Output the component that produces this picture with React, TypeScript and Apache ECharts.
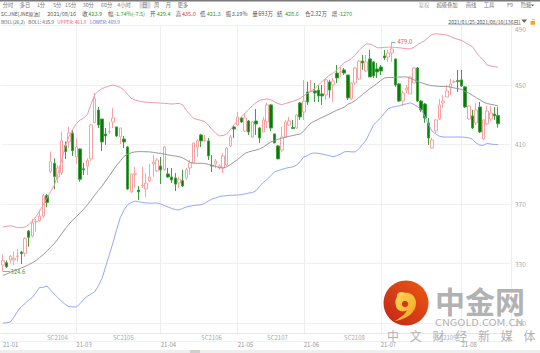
import React, { useEffect, useRef } from "react";
import * as echarts from "echarts";

const opens = [329,330.5,332.4,332.4,334.7,337.7,336.9,351.8,348.5,358,
358.8,361.9,375.6,391.7,397.4,388.2,391,409.2,411.7,417.5,
401.6,407,393.7,395.5,400.3,424.7,433.2,427.1,417.1,418.4,
425.1,421.8,415,413.7,408.3,378.1,390,379.4,382,380.1,
385.5,396.9,392.2,395.5,392.9,390.2,388.2,387.5,384.1,385.7,
387.5,394.2,397.6,408.3,416.4,412.6,412.4,396,396.9,394.2,
394.2,396.2,409,421.8,423.1,427.8,419,425.8,415,425.8,
421.1,418.4,425.1,436.6,417.1,409,406.3,415,423.1,421.4,
421.1,437.9,431.8,445.3,445.7,446,446.6,444,443.3,452,
450,458,458.5,460.1,456.7,440.6,451.3,454,466.1,459.4,
467.5,465.5,460.8,462.1,469.5,468.8,471.5,467.5,450.7,439.2,
446.6,444,451.3,461.4,439.2,437.2,424.5,407.6,419,427.1,
437.9,441.9,448,452,452.9,453.4,448.7,427.1,429.2,424.5,
435.2,413.7,423.8,427.1,430.5,429.4];
const closes = [331.9,327.8,335,333.5,335.1,336.7,346.9,347.6,357.4,358.4,
361.9,375.6,371.1,398.4,388.4,394.2,412.6,405.2,417.7,405.8,
408.3,386.6,392.9,399.1,423.1,441,423.1,411.7,415.7,418.9,
427.8,415.7,421.1,411.7,380.1,390.2,390.5,378.1,382.5,384.1,
388.2,398.2,399.6,392.9,408.3,388.2,386.1,383.4,386.8,382.1,
392.9,397.6,411,412.4,412.4,413,402.3,395.5,398.9,395.5,
402.3,407.6,415,420.4,428.5,425.1,427.8,418.4,425.1,423.8,
414.4,426.5,436.6,421.1,411,400.3,415,425.1,425.8,420.8,
429.8,428.5,439.2,438.6,446,444.6,442.6,442.6,453.4,446.6,
452.7,454.7,458.9,458,441.3,451.3,461.4,466.1,464.8,465.5,
455.4,456.1,458.7,459.4,468.2,471.5,474.2,450,439.2,444.6,
448,455.4,461.4,439.2,433.2,427.8,414.4,413,426.5,436.6,
439.2,446,450.7,452.2,452.4,449.3,435.2,435.9,421.1,433.2,
418.4,426.5,432.5,431.2,429.2,423.9];
const lows = [324.6,327,330.2,329,331.2,329.7,334.6,341.3,347.6,351.4,
358.1,360.4,367.8,390.6,380,384.1,389.5,400.3,407.6,402.3,
396.9,385,389.5,389.5,398.9,424.5,421.1,405.6,409.7,417.1,
421.1,415,410.3,407.6,379.4,377.4,380.8,372.7,380.8,374.7,
384.8,388.2,391.5,383.4,392.2,387.5,384.1,378.7,380.8,381.4,
386.1,389.5,397.6,401.6,408.3,411.7,399.6,391.5,394.2,392.9,
390.8,395.5,408.3,414.4,422.4,424.5,418.4,416.4,414.4,416.4,
411,418.4,421.1,419,411,400.3,405,414.4,422.4,420.8,
420.4,426.5,426.5,436.6,445.3,438.6,438.6,436.6,439.9,441.3,
438.6,451.3,455.4,456.7,439.9,439.9,450,453.4,460.1,458.7,
455.4,454.7,454.7,456.7,466.8,465.5,465.5,448.7,438.6,435.9,
444.6,444,451.3,438.6,431.8,424.5,409.7,407.6,417.7,426.5,
434.5,441.9,443.3,451.3,445.3,448.7,434.5,426.5,420.4,423.1,
417.7,413,423.1,425.8,426.5,421.3];
const highs = [336.2,332,335.7,338,339.6,338.5,347.6,352.5,359.9,359.9,
366,376.7,376.7,405.2,400.7,396.2,418.6,411.9,422,419.7,
414.4,407.4,397.6,400.7,423.8,444.6,435.2,427.1,421.1,425.1,
434.5,421.8,421.1,415.7,409,390.2,394.9,382.1,394.9,390.8,
396.9,402.9,400.9,401.6,409,394.2,394.2,390.8,388.2,392.9,
394.2,399.6,411,413.7,417.1,416.4,414.4,402.9,400.3,396.9,
404.3,408.3,416.4,423.1,431.8,428.5,431.2,426.5,425.8,433.9,
421.8,428.5,437.9,437.2,417.1,409.7,421.8,426.5,428.5,426.5,
430.5,438.6,453.4,452,453.4,451.3,450,450,454.7,453.4,
454.7,463.4,462.1,461.4,456.7,452,462.1,466.8,470.2,470.2,
473.5,466.1,464.8,463.4,473.5,473.5,479,467.5,451.3,446,
450,456.1,462.1,462.1,439.9,437.9,427.8,414.4,427.1,440.6,
443.3,450,454,453.4,460.1,460.1,449.3,436.6,433.2,437.9,
438.6,427.1,435.9,435.9,435.2,435];

const upper = [354.5,355,355.4,354.8,354.1,354.2,354.5,356,358.5,361.5,
365.2,369.5,374,378.5,382.5,390.5,400,409,415.5,420,
424,426.4,427.8,430,437,443.5,445.8,447.6,448.5,449.4,
450,449.3,448.3,446.5,443.5,441,439.8,439.2,438.7,438.4,
438.3,438.1,438,437.8,437.7,437.4,437.2,437.4,437.7,436.5,
433,430,427.4,426.8,426.2,425.3,423,420,417.5,415.8,
416,417,420,423.2,426,428.5,431,433.5,436,438.2,
439.7,440.2,440.6,440,438.8,437.4,436.8,437.5,438.3,439,
439.8,441,442.8,444.3,445.7,447.5,450,452.3,454.5,456.5,
458,460,462.5,465,466,467.8,470,473,475.5,477.5,
477.5,476.5,475,475,475.2,475.4,475.5,475.2,475,474.7,
474.4,474.2,475.2,477,478.5,479.8,482,484,484.4,484.2,
483.9,483.6,482.5,481.5,480.6,480,478.5,477,475.7,472,
469,466.8,463.4,462.8,462.3,461.9];
const middle = [322,323,324,325,326,327,328,329.2,330.5,332,
334,336,338.5,341,343.5,346.5,350,353.5,356.5,359.2,
361.5,364,366.5,369.5,372.5,376,379,382,385.5,389,
392.5,396,399,402,403.5,404.5,405,405.2,405.2,405.1,
405,404.7,404.3,404,403.5,403,402.6,402.2,401.8,401,
399.5,398,397.4,397.4,397.4,397.2,396.6,396,395.2,394.5,
394.2,395,396.5,398.2,400,402,404,405,405.7,406.3,
407,408.3,410,411.7,412.6,413.5,414.2,415,415.5,416,
416.6,417,419,422,424.5,425.8,427,428.2,429.3,430.5,
431.8,433,434,435,437,438,439.5,441.5,443.5,445.5,
447.5,449.2,451,453,454.7,455,455,455.2,455.3,455.4,
455.4,454.5,453.5,452.5,451.5,450.7,450,449.5,449.3,449,
449,448.9,448.7,448,447.5,447,445.5,444.5,443,441.5,
440,438.5,437.5,437,436.5,435.9];
const lower = [290,290.2,290.7,294,298,301,303,305.5,307.2,310.5,
314,314,314.9,312,309.5,307,304.5,302.5,301,300.8,
300.8,303,306,308,309.5,311,315,320,328,336,
344,353,361,366,369.5,371,372,371.5,371,370.7,
370.6,370.6,370.7,370,369,368,367,366.2,366,367,
368,368.5,369,369.3,369.5,370.5,372,373.4,374,375,
375.4,375.7,375.8,376,376,376.3,376.8,377.4,377.6,379,
382,384.5,386.5,389,391.5,392.5,393.2,394,394.5,394.9,
396,398.5,401.6,402.5,404,404.3,404,403.6,403,402.5,
401.8,402.5,403.5,405,405.3,405,405,407,410,413,
418,423,425.5,428,431,434,435,435.5,436,436.8,
437.3,438,437,435.5,433.5,429,423.5,419,417,415.5,
415,415,415,415,415,415,414.8,414.5,413.5,411,
409.5,409.5,410.7,410.3,410,409.9];

const monthLabels = ["21-01","21-03","21-04","21-05","21-06","21-07","21-08"];
const monthStarts = [0,20,43,64,82,103,125];
const contractLabels = ["SC2104","SC2105","SC2106","SC2107","SC2108","SC2109"];
const contractStarts = [12,30,54,72,93,118];
const blankSlots = 3;
const valueTicks = [290,330,370,410,450,490];
const highPoint = { index: 106, value: 479.0 };
const lowPoint = { index: 0, value: 324.6 };

const toolbarLeft = ["分时","多日","1分","5分","15分","30分","60分","4小时","日","周","月","更多"];
const toolbarRight = ["复权","超级叠加","画线","工具","F9","隐藏"];
const quoteLine = [
  ["SC.JNE[JNE原油]","#555"],["2021/08/16","#555"],["收","#555"],["423.9","#2a9a2a"],["幅","#555"],
  ["-1.74%(-7.5)","#2a9a2a"],["开","#555"],["429.4","#2a9a2a"],["高","#555"],["435.0","#e03030"],
  ["低","#555"],["421.3","#2a9a2a"],["振","#555"],["3.19%","#555"],["量","#555"],["693万","#555"],
  ["结","#555"],["428.6","#2a9a2a"],["仓","#555"],["2.32万","#555"],["增","#555"],["-1270","#2a9a2a"],
];
const bollLine = [
  ["BOLL(26,2)","#555"],["BOLL: 435.9","#555"],["UPPER: 461.9","#f0506a"],["LOWER: 409.9","#4a6cf0"],
];
const dateRange = "2021/01/25-2021/08/16(136日)";
const brandName = "中金网";
const brandSite = "CNGOLD.COM.CN";
const brandSlogan = "中    文    财    经    新    媒    体";

const toolbarLeftX = [8,25,41,57.3,70.7,88.3,106.7,124,144.7,156.7,168.3,182.7];
const toolbarRightX = [424,447,471,489,510,526];
const quoteX = [1,47.3,82.3,88.3,108,114,150,156.7,175.7,182,200,206.7,225.7,231.7,252.3,258.3,277,285,305,310.7,331.7,338];
const bollX = [1,28.3,57.3,90];
const FONT = '"Noto Sans CJK SC","Noto Sans",sans-serif';

const swirl = "M-9,-6 C-10,-11 -4,-12 -1,-10 C4,-11 10,-7 10,0 C10,9 2,16 -11,18 C-5,14 0,11 1,7 C-3,10 -9,8 -10,3 C-11,0 -11,-3 -9,-6 Z";
echarts.graphic.registerShape("logoSwirl", echarts.graphic.extendPath(swirl, {}) as any);

function labelsAt(total: number, labels: string[], starts: number[]) {
  const out = new Array(total).fill("");
  starts.forEach((s, i) => { out[s] = labels[i]; });
  return out;
}

export default function App() {
  const ref = useRef<HTMLDivElement>(null);
  useEffect(() => {
    const chart = echarts.init(ref.current!, undefined, { renderer: "svg" });
    const total = opens.length + blankSlots;
    const candles = opens.map((o, i) => [o, closes[i], lows[i], highs[i]]);
    const txt = (text: string, x: number, y: number, fill: string, size: number, align = "left") => ({
      type: "text", x, y, z: 20,
      style: { text, fill, font: `normal ${size}px ${FONT}`, textAlign: align, textVerticalAlign: "middle" },
    });
    const graphics: any[] = [
      { type: "rect", shape: { x: 0, y: 0, width: 540, height: 1.5 }, style: { fill: "#777" }, z: 20 },
      { type: "rect", shape: { x: 0, y: 350, width: 540, height: 3 }, style: { fill: "#eeeeee" }, z: 20 },
      { type: "rect", shape: { x: 190, y: 350, width: 10, height: 3 }, style: { fill: "#cfcfcf" }, z: 21 },
      { type: "line", shape: { x1: 0, y1: 341.5, x2: 511, y2: 341.5 }, style: { stroke: "#f0f0f0", lineWidth: 1 }, z: 1 },
      { type: "rect", shape: { x: 139.5, y: 1.8, width: 11, height: 6.8 }, style: { fill: "#dcdcdc" }, z: 19 },
      ...toolbarLeft.map((t, i) => txt(t, toolbarLeftX[i], 5.2, "#777", 5.3, "center")),
      ...toolbarRight.map((t, i) => txt(t, toolbarRightX[i], 5.2, i === 0 ? "#aaa" : "#777", 5.3, "center")),
      { type: "polygon", shape: { points: [[531, 4.5], [534, 4.5], [532.5, 6.5]] }, style: { fill: "#555" }, z: 20 },
      ...quoteLine.map((q, i) => txt(q[0], quoteX[i], 13.5, q[1], i === 0 ? 5 : 5.5)),
      ...bollLine.map((q, i) => txt(q[0], bollX[i], 22, q[1], 4.7)),
      txt(dateRange, 448.3, 21.6, "#555", 5.1),
      { type: "line", shape: { x1: 448.3, y1: 24.3, x2: 521, y2: 24.3 }, style: { stroke: "#888", lineWidth: 0.6 }, z: 20 },
      { type: "polygon", shape: { points: [[521.5, 19.5], [527, 19.5], [524.2, 23]] }, style: { fill: "#666" }, z: 20 },
      { type: "rect", shape: { x: 530.5, y: 21, width: 4.5, height: 3.8 }, style: { fill: "#f5a623" }, z: 20 },
      { type: "arc", shape: { cx: 533.5, cy: 20.5, r: 1.5, startAngle: Math.PI, endAngle: 0 }, style: { stroke: "#f5a623", lineWidth: 0.8, fill: "none" }, z: 20 },
      {
        type: "circle", shape: { cx: 406, cy: 303, r: 22.5 }, z: 30,
        style: { fill: { type: "linear", x: 1, y: 0, x2: 0, y2: 1, colorStops: [{ offset: 0, color: "#ee5a12" }, { offset: 1, color: "#bf2419" }] } },
      },
      {
        type: "logoSwirl", x: 406, y: 303, z: 31,
        style: { fill: { type: "linear", x: 0, y: 0, x2: 1, y2: 1, colorStops: [{ offset: 0, color: "#fbd85a" }, { offset: 1, color: "#f6a21f" }] } },
      },
      { type: "circle", shape: { cx: 405, cy: 304, r: 3.2 }, style: { fill: "#d23a16" }, z: 32 },
      { type: "text", x: 435, y: 299.5, z: 31, style: { text: brandName, fill: "#b2b2b2", font: `bold 30px ${FONT}`, textVerticalAlign: "middle" } },
      { type: "text", x: 435, y: 322, scaleX: 1.15, z: 31, style: { text: brandSite, fill: "#b2b2b2", font: `9.5px ${FONT}`, textVerticalAlign: "middle" } },
      { type: "text", x: 387, y: 335, z: 31, style: { text: brandSlogan, fill: "#b2b2b2", font: `12px ${FONT}`, textVerticalAlign: "middle" } },
    ];
    const isLabeled = (_: number, v: string) => v !== "";
    chart.setOption({
      animation: false,
      backgroundColor: "#fff",
      textStyle: { fontFamily: FONT },
      grid: { left: 0, right: 29, top: 25, bottom: 20, containLabel: false },
      xAxis: [
        {
          type: "category",
          data: labelsAt(total, monthLabels, monthStarts),
          boundaryGap: true,
          axisLine: { lineStyle: { color: "#e8e8e8" } },
          axisTick: { show: false },
          axisLabel: { interval: isLabeled, color: "#999", fontSize: 6, align: "left", margin: 8.5 },
          splitLine: {
            show: true,
            alignWithLabel: true,
            interval: (i: number, v: string) => v !== "" && i !== 0,
            lineStyle: { color: "#eeeeee", width: 1 },
          },
        },
        {
          type: "category",
          position: "bottom",
          data: labelsAt(total, contractLabels, contractStarts),
          boundaryGap: true,
          axisLine: { show: false },
          axisTick: { show: false },
          axisLabel: { interval: isLabeled, color: "#aaa", fontSize: 6, align: "left", margin: 1 },
          splitLine: { show: false },
        },
      ],
      yAxis: {
        type: "value",
        position: "right",
        min: 283.3,
        max: 490.3,
        axisLine: { show: true, lineStyle: { color: "#eeeeee" } },
        axisTick: { show: false, customValues: valueTicks },
        axisLabel: { color: "#aaa", fontSize: 6.5, margin: 4, customValues: valueTicks, verticalAlignMaxLabel: "top" },
        splitLine: { show: true, customValues: valueTicks, lineStyle: { color: "#f0f0f0", width: 1 } },
      },
      series: [
        {
          type: "candlestick",
          data: candles,
          barWidth: 3,
          z: 2,
          itemStyle: {
            color: "#fff",
            borderColor: "#f8a3a3",
            color0: "#067c06",
            borderColor0: "#3f9f3f",
            borderWidth: 1,
          },
          markLine: {
            silent: true,
            symbol: "none",
            animation: false,
            data: [
              [
                {
                  coord: [highPoint.index, highPoint.value],
                  lineStyle: { color: "#6fb7e0", width: 1, type: "solid" },
                  label: { show: true, position: "end", formatter: highPoint.value.toFixed(1), color: "#d9534f", fontSize: 6, distance: 2 },
                },
                { coord: [highPoint.index + 1, highPoint.value] },
              ],
              [
                {
                  coord: [lowPoint.index, lowPoint.value],
                  lineStyle: { color: "#6fb7e0", width: 1, type: "solid" },
                  label: { show: true, position: "end", formatter: lowPoint.value.toFixed(1), color: "#3f9e3f", fontSize: 6, distance: 0 },
                },
                { coord: [lowPoint.index + 2, lowPoint.value] },
              ],
            ],
          },
        },
        { type: "line", name: "UPPER", data: upper, symbol: "none", z: 3, lineStyle: { color: "#f097a6", width: 1 } },
        { type: "line", name: "BOLL", data: middle, symbol: "none", z: 3, lineStyle: { color: "#999999", width: 1 } },
        { type: "line", name: "LOWER", data: lower, symbol: "none", z: 3, lineStyle: { color: "#92a8fb", width: 1 } },
      ],
      graphic: { elements: graphics },
    });
    return () => chart.dispose();
  }, []);
  return <div ref={ref} style={{ position: "fixed", left: 0, top: 0, width: 540, height: 353 }} />;
}
